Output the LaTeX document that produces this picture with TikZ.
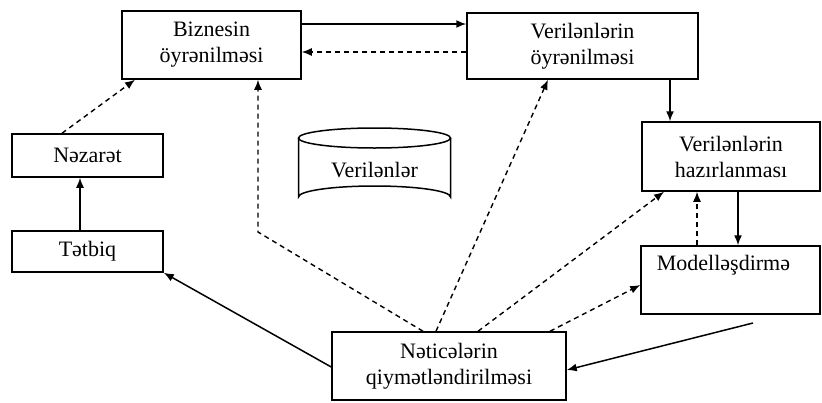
\documentclass[tikz,border=0pt]{standalone}
\usepackage{fontspec}
\setmainfont{Liberation Serif}
\usetikzlibrary{arrows.meta,calc}
\begin{document}
\begin{tikzpicture}[x=1pt,y=-1pt,
  box/.style={draw,line width=1.5pt,inner sep=0pt,align=center,font=\fontsize{22}{26}\selectfont},
  sol/.style={line width=1.5pt,-{Latex[length=10pt,width=8pt]}},
  dsh/.style={line width=1.4pt,dash pattern=on 5pt off 4pt,-{Latex[length=10pt,width=8pt]}}]
\useasboundingbox (0,0) rectangle (822,402);
\node[box,minimum width=179,minimum height=68] (b1) at (211.5,45) {Biznesin\\öyrənilməsi};
\node[box,minimum width=231,minimum height=66] (b2) at (582.5,46) {Verilənlərin\\öyrənilməsi};
\node[box,minimum width=178,minimum height=69] (b3) at (731,156.5) {Verilənlərin\\hazırlanması};
\node[box,minimum width=179,minimum height=68] (b4) at (730.5,280) {Modelləşdirmə\hspace*{14pt}\\ \strut};
\node[box,minimum width=234,minimum height=68] (b5) at (449,366) {Nəticələrin\\qiymətləndirilməsi};
\node[box,minimum width=151,minimum height=43] (b6) at (87.5,155.5) {Nəzarət};
\node[box,minimum width=151,minimum height=41] (b7) at (87.5,251.5) {Tətbiq};
% cylinder
\draw[line width=1.5pt] (298.5,138) -- (298.5,197) arc[start angle=180,end angle=360,x radius=76,y radius=11] -- (450.5,138);
\draw[line width=1.5pt] (374.5,138) ellipse[x radius=76,y radius=10];
\node[font=\fontsize{22}{26}\selectfont] (db) at (374.5,170) {Verilənlər};
\coordinate (ms) at (753,323);
% connectors
\draw[sol] (b1.east |- 0,24) -- (b2.west |- 0,24);
\draw[dsh] (b2.west |- 0,52) -- (b1.east |- 0,52);
\draw[sol] (b2.south -| 670,0) -- (b3.north -| 670,0);
\draw[sol] (b3.south -| 738,0) -- (b4.north -| 738,0);
\draw[dsh] (b4.north -| 697,0) -- (b3.south -| 697,0);
\draw[dsh] (b5.north -| 478,0) -- (b3.south -| 664,0);
\draw[dsh] (b5.north -| 550,0) -- (b4.west |- 0,285);
\draw[dsh] (b5.north -| 436,0) -- (b2.south -| 548,0);
\draw[dsh] (b5.north -| 423,0) -- (258,232) -- (b1.south -| 258,0);
\draw[dsh] (b6.north -| 62,0) -- (b1.south -| 135,0);
\draw[sol] (b7.north -| 80,0) -- (b6.south -| 80,0);
\draw[sol] (b5.west |- 0,367) -- (b7.south east);
\draw[sol] (ms) -- (b5.east |- 0,370);
\end{tikzpicture}
\end{document}
